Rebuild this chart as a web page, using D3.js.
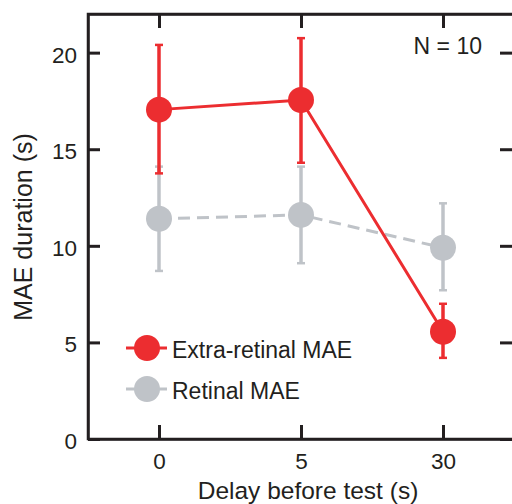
<!DOCTYPE html>
<html><head><meta charset="utf-8">
<script src="https://cdn.jsdelivr.net/npm/d3@7"></script>
<style>
body{margin:0;background:#fff;}
svg{display:block;font-family:"Liberation Sans",Arial,Helvetica,sans-serif;}
</style></head>
<body>
<svg id="chart" width="512" height="504"></svg>
<script>
const categories = ["0", "5", "30"];
const extraMean = [17.05, 17.55, 5.55];
const extraLow  = [13.75, 14.3, 4.2];
const extraHigh = [20.4, 20.75, 7.0];
const retMean = [11.4, 11.6, 9.9];
const retLow  = [8.7, 9.1, 7.7];
const retHigh = [14.1, 14.1, 12.2];
const yTicks = [0, 5, 10, 15, 20];
const seriesNames = ["Extra-retinal MAE", "Retinal MAE"];

const ink = "#231f20", red = "#ec2d30", gray = "#bfc3c8";
const L = 88, R = 514, T = 14, B = 439;

const svg = d3.select("#chart");
const x = d3.scalePoint().domain(categories).range([L, R]).padding(0.5);
const y = d3.scaleLinear().domain([0, 22]).range([B, T]);

function styleAxis(g){
  g.selectAll(".domain").attr("stroke", ink).attr("stroke-width", 2.5);
  g.selectAll(".tick line").attr("stroke", ink).attr("stroke-width", 3);
  g.selectAll("text").attr("fill", ink).style("font-size", "22.5px").attr("font-family", null);
}

svg.append("g").attr("transform", `translate(${L},0)`)
  .call(d3.axisLeft(y).tickValues(yTicks).tickSizeInner(-12).tickSizeOuter(0).tickPadding(11))
  .call(styleAxis)
  .call(g => g.selectAll(".tick text").attr("dy", "0.42em"));
svg.append("g").attr("transform", `translate(${R},0)`)
  .call(d3.axisRight(y).tickValues(yTicks).tickSizeInner(-14).tickSizeOuter(0).tickFormat(""))
  .call(styleAxis);
svg.append("g").attr("transform", `translate(0,${B})`)
  .call(d3.axisBottom(x).tickSizeInner(-14).tickSizeOuter(0).tickPadding(14))
  .call(styleAxis);
svg.append("g").attr("transform", `translate(0,${T})`)
  .call(d3.axisTop(x).tickSizeInner(-14).tickSizeOuter(0).tickFormat(""))
  .call(styleAxis);
svg.append("path").attr("d", `M${L},${T}H${R}V${B}H${L}Z`).attr("fill","none").attr("stroke",ink).attr("stroke-width",2.5);

function drawSeries(mean, low, high, color, dashed){
  const g = svg.append("g");
  g.append("path").datum(mean)
    .attr("d", d3.line().x((d,i)=>x(categories[i])).y(d=>y(d)))
    .attr("fill","none").attr("stroke", color).attr("stroke-width", 3)
    .attr("stroke-dasharray", dashed ? "12,7" : null);
  const eb = g.selectAll(".eb").data(mean).enter().append("g");
  eb.append("line").attr("x1",(d,i)=>x(categories[i])).attr("x2",(d,i)=>x(categories[i]))
    .attr("y1",(d,i)=>y(low[i])).attr("y2",(d,i)=>y(high[i]))
    .attr("stroke",color).attr("stroke-width",3.5);
  [low, high].forEach(arr=>{
    eb.append("line").attr("x1",(d,i)=>x(categories[i])-4).attr("x2",(d,i)=>x(categories[i])+4)
      .attr("y1",(d,i)=>y(arr[i])).attr("y2",(d,i)=>y(arr[i]))
      .attr("stroke",color).attr("stroke-width",2.5);
  });
  g.selectAll("circle").data(mean).enter().append("circle")
    .attr("cx",(d,i)=>x(categories[i])).attr("cy",d=>y(d)).attr("r",13).attr("fill",color);
}
drawSeries(retMean, retLow, retHigh, gray, true);
drawSeries(extraMean, extraLow, extraHigh, red, false);

svg.append("text").attr("x", 482).attr("y", 54).attr("text-anchor","end")
  .attr("fill", ink).style("font-size","23px").text("N = 10");

const leg = [{c:red, yy:348, name:seriesNames[0]}, {c:gray, yy:389, name:seriesNames[1]}];
leg.forEach(l=>{
  svg.append("line").attr("x1",126).attr("x2",167).attr("y1",l.yy).attr("y2",l.yy)
    .attr("stroke",l.c).attr("stroke-width",3);
  svg.append("circle").attr("cx",147).attr("cy",l.yy).attr("r",13).attr("fill",l.c);
  svg.append("text").attr("x",172).attr("y",l.yy+10).attr("fill",ink)
    .style("font-size","23px").text(l.name);
});

svg.append("text").attr("x", 308).attr("y", 499).attr("text-anchor","middle")
  .attr("fill", ink).style("font-size","24.5px").text("Delay before test (s)");
svg.append("text").attr("transform","translate(32,227) rotate(-90)").attr("text-anchor","middle")
  .attr("fill", ink).style("font-size","25px").text("MAE duration (s)");
</script>
</body></html>
